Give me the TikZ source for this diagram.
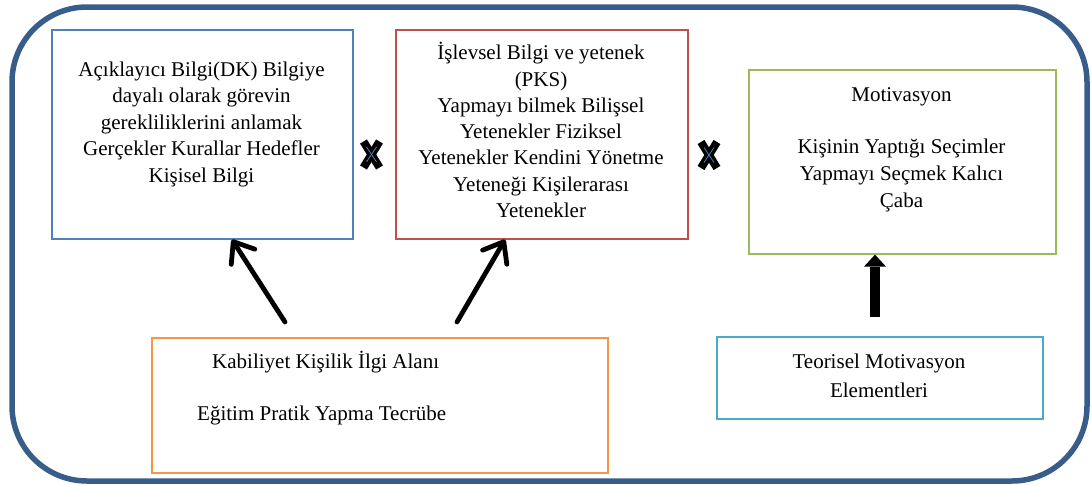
\documentclass[tikz,border=0pt]{standalone}
\usepackage{fontspec}
\setmainfont{Liberation Serif}
\usetikzlibrary{arrows.meta}

\definecolor{framecol}{HTML}{385D8A}
\definecolor{kdblue}{HTML}{4F81BD}
\definecolor{pkred}{HTML}{C0504D}
\definecolor{motgreen}{HTML}{9BBB59}
\definecolor{kabor}{HTML}{F79646}
\definecolor{teoaqua}{HTML}{4BACC6}

\begin{document}
\begin{tikzpicture}[x=1pt,y=-1pt,
  box/.style={draw, line width=1.6pt, inner sep=0pt, anchor=north west},
  txt/.style={font=\fontsize{21}{26.6}\selectfont, align=center, inner sep=0pt, anchor=base},
  ltxt/.style={font=\fontsize{21}{26.6}\selectfont, inner sep=0pt, anchor=base west},
  linkarrow/.style={line width=4.8pt, line cap=round,
    -{Straight Barb[length=18pt,width=28pt,line cap=round,line join=round]}},
  blockarrow/.style={line width=10pt,
    -{Triangle[length=12pt,width=22pt,line width=0pt]}},
  crossmark/.pic={
    \draw[line width=8pt] (-8,-13) -- (8,13);
    \draw[line width=8pt] (8,-13) -- (-8,13);
    \draw[kdblue, line width=0.8pt] (-5,-7.5) -- (5,7.5);
    \draw[kdblue, line width=0.8pt] (5,-7.5) -- (-5,7.5);
  }]

\useasboundingbox (0,0) rectangle (1092,485);

% outer frame
\draw[framecol, line width=5.5pt, rounded corners=75pt] (12,7) rectangle (1087,481);

% boxes
\node[box, draw=kdblue, minimum width=301pt, minimum height=209pt] (kd) at (51,29) {};
\node[box, draw=pkred, minimum width=292pt, minimum height=209pt] (pk) at (395,29) {};
\node[box, draw=motgreen, minimum width=307pt, minimum height=184pt] (mot) at (748,69) {};
\node[box, draw=kabor, minimum width=456pt, minimum height=135pt] (kab) at (151,337) {};
\node[box, draw=teoaqua, minimum width=326pt, minimum height=82pt] (teo) at (716,336) {};

% texts (the base anchor sits on the last line)
\node[txt] (kdtext) at (201.5,182.5) {Açıklayıcı Bilgi(DK) Bilgiye\\dayalı olarak görevin\\gerekliliklerini anlamak\\Gerçekler Kurallar Hedefler\\Kişisel Bilgi};
\node[txt, font=\fontsize{21}{26.3}\selectfont] (pktext) at (541,217.5) {İşlevsel Bilgi ve yetenek\\(PKS)\\Yapmayı bilmek Bilişsel\\Yetenekler Fiziksel\\Yetenekler Kendini Yönetme\\Yeteneği Kişilerarası\\Yetenekler};
\node[txt] (mottext) at (901.5,207) {Motivasyon\\[25.4pt]Kişinin Yaptığı Seçimler\\Yapmayı Seçmek Kalıcı\\Çaba};
\node[ltxt] (kabtexta) at (212,368) {Kabiliyet Kişilik İlgi Alanı};
\node[ltxt] (kabtextb) at (197,420) {Eğitim Pratik Yapma Tecrübe};
\node[txt] (teotext) at (879,397) {Teorisel Motivasyon\\[2.4pt]Elementleri};

% connectors
\coordinate (a1s) at (285,322);
\coordinate (a2s) at (457,322);
\coordinate (a3s) at (875,317);
\draw[linkarrow] (a1s) -- ([xshift=181pt]kd.south west);
\draw[linkarrow] (a2s) -- ([xshift=110pt]pk.south west);
\draw[blockarrow] (a3s) -- (a3s |- mot.south);

% cross marks between the upper boxes
\pic at (371.5,154.5) {crossmark};
\pic at (709,155) {crossmark};

\end{tikzpicture}
\end{document}
